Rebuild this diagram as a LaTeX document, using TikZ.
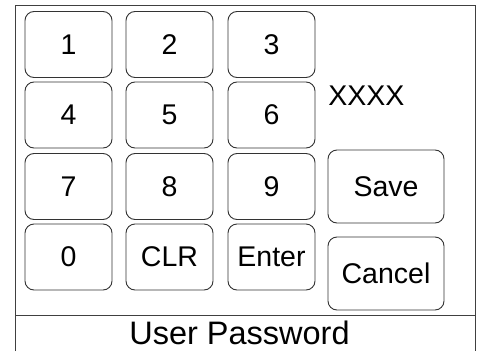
\documentclass[tikz,border=0pt]{standalone}
\usepackage{fontspec}
\setmainfont{Liberation Sans}
\usepackage{tikz}

\tikzset{
  key/.style={draw=black!80, rounded corners=9pt, minimum width=87pt, minimum height=66pt,
    inner sep=0pt, font=\fontsize{28.5}{28.5}\selectfont},
  bigkey/.style={key, minimum width=116pt, minimum height=73pt}
}

\begin{document}
\begin{tikzpicture}[x=1pt, y=-1pt, line width=0.9pt]
\useasboundingbox (0, 0) rectangle (482, 351);
% frame of the screen
\draw[black!75] (15, 351) -- (15, 5) -- (475, 5) -- (475, 351);
\draw[black!75] (15, 315.5) -- (475, 315.5);
% keypad
\node[key] (k1) at (68.5, 44.5) {1};
\node[key] (k2) at (169.5, 44.5) {2};
\node[key] (k3) at (271.5, 44.5) {3};
\node[key] (k4) at (68.5, 115) {4};
\node[key] (k5) at (169.5, 115) {5};
\node[key] (k6) at (271.5, 115) {6};
\node[key] (k7) at (68.5, 186.5) {7};
\node[key] (k8) at (169.5, 186.5) {8};
\node[key] (k9) at (271.5, 186.5) {9};
\node[key] (k0) at (68.5, 257) {0};
\node[key] (clr) at (169.5, 257) {CLR};
\node[key] (enter) at (271.5, 257) {Enter};
% right column
\node[anchor=west, inner sep=0pt, font=\fontsize{28.5}{28.5}\selectfont] (pwd) at (328, 96) {XXXX};
\node[bigkey] (save) at (386, 186.5) {Save};
\node[bigkey] (cancel) at (386, 273.5) {Cancel};
% title bar
\node[font=\fontsize{32.5}{32.5}\selectfont] (title) at (239.5, 333) {User Password};
\end{tikzpicture}
\end{document}
